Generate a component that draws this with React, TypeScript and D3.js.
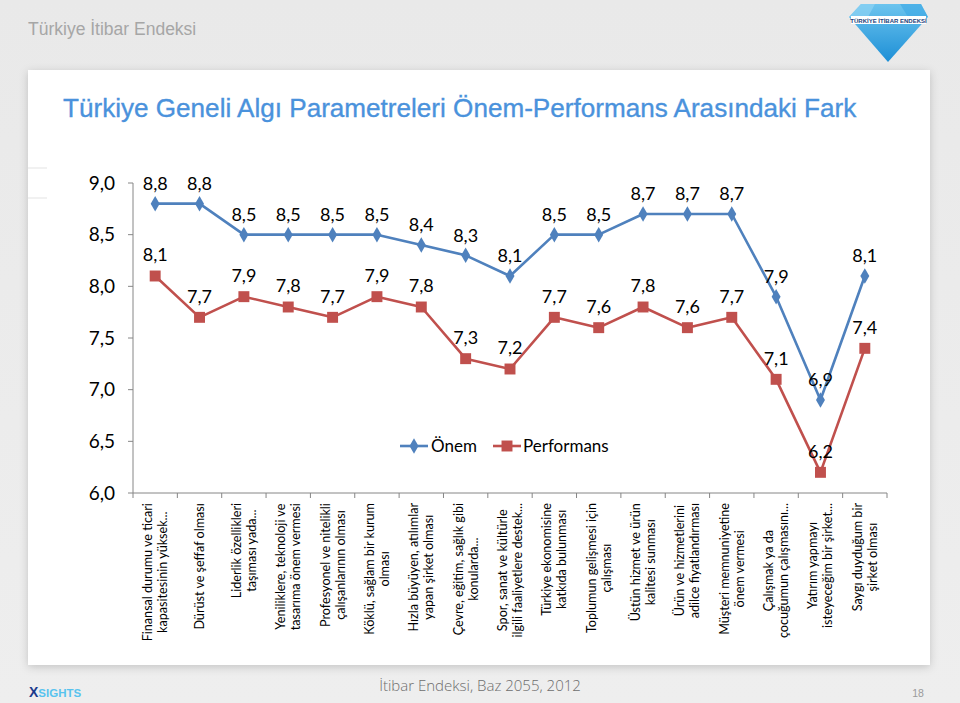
import React from "react";
import * as d3 from "d3";

const categories = [
  "Finansal durumu ve ticari\nkapasitesinin yüksek...",
  "Dürüst ve şeffaf olması",
  "Liderlik özellikleri\ntaşıması yada...",
  "Yeniliklere, teknoloji ve\ntasarıma önem vermesi",
  "Profesyonel ve nitelikli\nçalışanlarının olması",
  "Köklü, sağlam bir kurum\nolması",
  "Hızla büyüyen, atılımlar\nyapan şirket olması",
  "Çevre, eğitim, sağlık gibi\nkonularda...",
  "Spor, sanat ve kültürle\nilgili faaliyetlere destek...",
  "Türkiye ekonomisine\nkatkıda bulunması",
  "Toplumun gelişmesi için\nçalışması",
  "Üstün hizmet ve ürün\nkalitesi sunması",
  "Ürün ve hizmetlerini\nadilce fiyatlandırması",
  "Müşteri memnuniyetine\nönem vermesi",
  "Çalışmak ya da\nçocuğumun çalışmasını...",
  "Yatırım yapmayı\nisteyeceğim bir şirket...",
  "Saygı duyduğum bir\nşirket olması",
];

const onem = [8.8, 8.8, 8.5, 8.5, 8.5, 8.5, 8.4, 8.3, 8.1, 8.5, 8.5, 8.7, 8.7, 8.7, 7.9, 6.9, 8.1];
const performans = [8.1, 7.7, 7.9, 7.8, 7.7, 7.9, 7.8, 7.3, 7.2, 7.7, 7.6, 7.8, 7.6, 7.7, 7.1, 6.2, 7.4];
const yTicks = [6.0, 6.5, 7.0, 7.5, 8.0, 8.5, 9.0];
const seriesNames = ["Önem", "Performans"];

const pageTitle = "Türkiye İtibar Endeksi";
const chartTitle = "Türkiye Geneli Algı Parametreleri Önem-Performans Arasındaki Fark";
const footer = "İtibar Endeksi, Baz 2055, 2012";
const pageNumber = "18";

const BLUE = "#4F81BD";
const RED = "#C0504D";
const FONT = "Lato, 'Open Sans', sans-serif";

const fmt = d3.formatLocale({ decimal: ",", thousands: ".", grouping: [3], currency: ["", ""] }).format(".1f");

let measureCtx: CanvasRenderingContext2D | null = null;
function measure(text: string, font: string) {
  if (!measureCtx) {
    const c = document.createElement("canvas");
    measureCtx = c.getContext("2d");
  }
  if (!measureCtx) return text.length * 6;
  measureCtx.font = font;
  return measureCtx.measureText(text).width;
}

export default function App() {
  const W = 960, H = 703;
  const x = d3.scaleBand<number>().domain(d3.range(categories.length)).range([133, 887]);
  const y = d3.scaleLinear().domain([6, 9]).range([493, 183]);
  const cx = (i: number) => (x(i) as number) + x.bandwidth() / 2;

  const line = d3.line<number>().x((_, i) => cx(i)).y((d) => y(d));
  const diamond = d3.symbol().type(d3.symbolDiamond).size(70)();
  const square = d3.symbol().type(d3.symbolSquare).size(120)();

  const labelFontSize = 12.6;
  const labelFont = `${labelFontSize}px Lato`;

  const boundaries = d3.range(categories.length + 1).map((i) =>
    i < categories.length ? (x(i) as number) : (x(categories.length - 1) as number) + x.bandwidth()
  );

  return (
    <svg width={W} height={H} style={{ position: "absolute", left: 0, top: 0 }} fontFamily={FONT}>
      <defs>
        <linearGradient id="bg" x1="0" y1="0" x2="0" y2="1">
          <stop offset="0" stopColor="#e9e9e9" />
          <stop offset="1" stopColor="#eeeeee" />
        </linearGradient>
        <linearGradient id="gem" x1="0" y1="0" x2="0" y2="1">
          <stop offset="0" stopColor="#6cc4ee" />
          <stop offset="1" stopColor="#1d8fd6" />
        </linearGradient>
        <filter id="sh" x="-5%" y="-5%" width="110%" height="115%">
          <feDropShadow dx="0" dy="2" stdDeviation="4" floodColor="#000" floodOpacity="0.18" />
        </filter>
      </defs>
      <rect width={W} height={H} fill="url(#bg)" />

      {/* header */}
      <text x={28} y={35} fontFamily="'Liberation Sans', Arial, sans-serif" fontSize={17.5} fill="#a6a6a6">
        {pageTitle}
      </text>
      {/* logo */}
      <g>
        <polygon points="861,4 921,4 928,17 888,62 849,17" fill="url(#gem)" />
        <polygon points="861,4 875,4 868,17 849,17" fill="#8fd3f3" opacity={0.7} />
        <polygon points="900,4 921,4 928,17 908,17" fill="#3aa6e4" opacity={0.6} />
        <rect x={851} y={16} width={75} height={8} fill="#ffffff" />
        <text x={888.5} y={22.5} textAnchor="middle" fontSize={6} fontWeight="bold" fill="#1c3f7a"
          fontFamily="'Liberation Sans', Arial, sans-serif">TÜRKİYE İTİBAR ENDEKSİ</text>
      </g>

      {/* panel */}
      <rect x={28} y={70} width={902} height={595} fill="#ffffff" filter="url(#sh)" />
      <line x1={28} x2={47} y1={168} y2={168} stroke="#e3e3e3" />
      <line x1={28} x2={47} y1={198} y2={198} stroke="#e3e3e3" />

      <text x={63} y={117} fontFamily="'Liberation Sans', Arial, sans-serif" fontSize={26.1} fill="#4a92dc"
        stroke="#4a92dc" strokeWidth={0.35}>
        {chartTitle}
      </text>

      {/* y axis */}
      <line x1={133} x2={133} y1={y(9)} y2={y(6)} stroke="#868686" />
      {yTicks.map((t) => (
        <g key={t}>
          <line x1={128} x2={133} y1={y(t)} y2={y(t)} stroke="#868686" />
          <text x={115} y={y(t)} dy="0.35em" textAnchor="end" fontSize={19} fill="#000">
            {fmt(t)}
          </text>
        </g>
      ))}

      {/* x axis */}
      <line x1={133} x2={887} y1={y(6)} y2={y(6)} stroke="#868686" />
      {boundaries.map((b, i) => (
        <line key={i} x1={b} x2={b} y1={y(6)} y2={y(6) + 5} stroke="#868686" />
      ))}
      {categories.map((c, i) => {
        const lines = c.split("\n");
        const bw = Math.max(...lines.map((l) => measure(l, labelFont)));
        const lh = 15;
        return (
          <g key={i} transform={`translate(${cx(i)},${503}) rotate(-90)`}>
            {lines.map((l, j) => (
              <text key={j} x={-bw / 2} y={(j - (lines.length - 1) / 2) * lh} dy="0.35em" textAnchor="middle"
                fontSize={labelFontSize} fontFamily="Lato" fill="#000">
                {l}
              </text>
            ))}
          </g>
        );
      })}

      {/* series */}
      <path d={line(onem) || ""} fill="none" stroke={BLUE} strokeWidth={2.6} strokeLinejoin="round" />
      <path d={line(performans) || ""} fill="none" stroke={RED} strokeWidth={2.6} strokeLinejoin="round" />
      {onem.map((v, i) => (
        <path key={"o" + i} d={diamond || ""} transform={`translate(${cx(i)},${y(v)})`} fill={BLUE} />
      ))}
      {performans.map((v, i) => (
        <path key={"p" + i} d={square || ""} transform={`translate(${cx(i)},${y(v)})`} fill={RED} />
      ))}
      {onem.map((v, i) => (
        <text key={"ol" + i} x={cx(i)} y={y(v) - 20} dy="0.35em" textAnchor="middle" fontSize={18} fill="#000">
          {fmt(v)}
        </text>
      ))}
      {performans.map((v, i) => (
        <text key={"pl" + i} x={cx(i)} y={y(v) - 21} dy="0.35em" textAnchor="middle" fontSize={18} fill="#000">
          {fmt(v)}
        </text>
      ))}

      {/* legend */}
      <g transform="translate(400,446)">
        <line x1={0} x2={28} y1={0} y2={0} stroke={BLUE} strokeWidth={2.6} />
        <path d={diamond || ""} transform="translate(14,0)" fill={BLUE} />
        <text x={31} y={0} dy="0.35em" fontSize={17} fill="#000">{seriesNames[0]}</text>
        <line x1={93} x2={121} y1={0} y2={0} stroke={RED} strokeWidth={2.6} />
        <path d={square || ""} transform="translate(107,0)" fill={RED} />
        <text x={123} y={0} dy="0.35em" fontSize={17} fill="#000">{seriesNames[1]}</text>
      </g>

      {/* footer */}
      <text x={480} y={691} textAnchor="middle" fontSize={15} fill="#6d6d6d" fontFamily="'Open Sans', sans-serif" fontWeight={300}>
        {footer}
      </text>
      <text x={918} y={697} textAnchor="middle" fontSize={10.5} fill="#9a9a9a" fontFamily="'Liberation Sans', Arial, sans-serif">
        {pageNumber}
      </text>
      <text x={29} y={697} fontSize={11.5} fontWeight="bold" fontFamily="'Liberation Sans', Arial, sans-serif">
        <tspan fill="#1a3a8c" fontSize={14}>X</tspan>
        <tspan fill="#58c3ee">SIGHTS</tspan>
      </text>
    </svg>
  );
}
